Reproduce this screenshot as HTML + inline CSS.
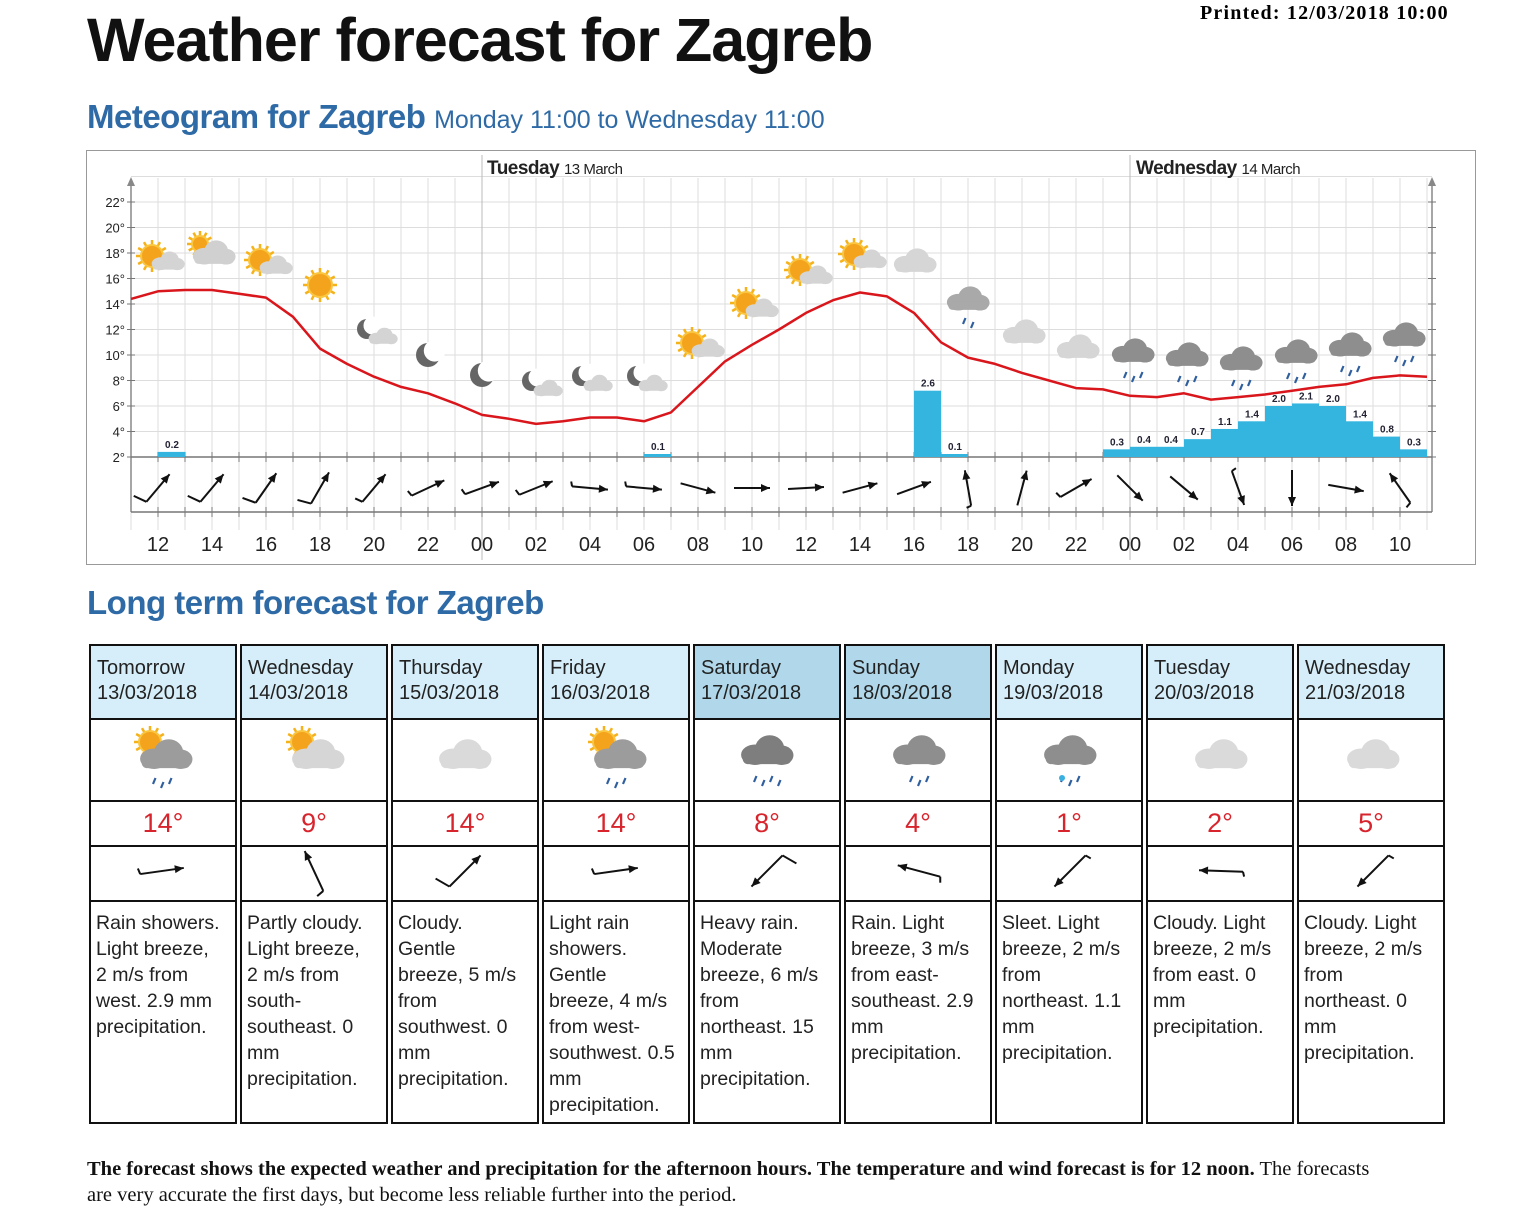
<!DOCTYPE html>
<html><head><meta charset="utf-8">
<style>
body{margin:0;width:1536px;height:1216px;background:#fff;position:relative;font-family:"Liberation Sans",sans-serif;overflow:hidden}
.abs{position:absolute;white-space:nowrap}
h1{position:absolute;left:87px;top:5px;margin:0;font-size:61px;font-weight:bold;letter-spacing:-1px;color:#111}
.h2{position:absolute;left:87px;margin:0;font-size:33px;font-weight:bold;color:#2e6aa6;letter-spacing:-0.5px}
.h2 span{font-weight:normal;font-size:25px;letter-spacing:0}
table{position:absolute;left:86px;top:644px;border-collapse:separate;border-spacing:3px 0}
td{border:2px solid #111;width:144px;padding:0;vertical-align:top}
.hd td{background:#d6eef9;height:62px;font-size:20px;line-height:25px;padding:10px 0 0 6px;width:138px;color:#222}
.hd td.we{background:#b0d8ea}
.ic td{height:80px;border-top:0}
.tp td{height:43px;border-top:0;text-align:center;font-size:27px;color:#d8242c;line-height:43px}
.wd td{height:53px;border-top:0}
.tx td{height:212px;border-top:0;font-size:19.5px;line-height:26px;padding:8px 0 0 5px;width:139px;color:#222}
.foot{position:absolute;left:87px;top:1156px;font-family:"Liberation Serif",serif;font-size:20.5px;line-height:26px;color:#111;width:1360px}
</style></head><body>
<div class="abs" style="left:1200px;top:2px;font-family:'Liberation Serif',serif;font-weight:bold;font-size:20px;letter-spacing:1.2px">Printed: 12/03/2018 10:00</div>
<h1>Weather forecast for Zagreb</h1>
<div class="h2" style="top:98px">Meteogram for Zagreb <span>Monday 11:00 to Wednesday 11:00</span></div>
<svg id="ch" style="position:absolute;left:0;top:0" width="1536" height="600"></svg>
<div class="h2" style="top:584px">Long term forecast for Zagreb</div>
<table>
<tr class="hd"><td>Tomorrow<br>13/03/2018</td><td>Wednesday<br>14/03/2018</td><td>Thursday<br>15/03/2018</td><td>Friday<br>16/03/2018</td><td class="we">Saturday<br>17/03/2018</td><td class="we">Sunday<br>18/03/2018</td><td>Monday<br>19/03/2018</td><td>Tuesday<br>20/03/2018</td><td>Wednesday<br>21/03/2018</td></tr>
<tr class="ic"><td></td><td></td><td></td><td></td><td></td><td></td><td></td><td></td><td></td></tr>
<tr class="tp"><td>14°</td><td>9°</td><td>14°</td><td>14°</td><td>8°</td><td>4°</td><td>1°</td><td>2°</td><td>5°</td></tr>
<tr class="wd"><td></td><td></td><td></td><td></td><td></td><td></td><td></td><td></td><td></td></tr>
<tr class="tx"><td>Rain showers.<br>Light breeze,<br>2 m/s from<br>west. 2.9 mm<br>precipitation.</td><td>Partly cloudy.<br>Light breeze,<br>2 m/s from<br>south-<br>southeast. 0<br>mm<br>precipitation.</td><td>Cloudy.<br>Gentle<br>breeze, 5 m/s<br>from<br>southwest. 0<br>mm<br>precipitation.</td><td>Light rain<br>showers.<br>Gentle<br>breeze, 4 m/s<br>from west-<br>southwest. 0.5<br>mm<br>precipitation.</td><td>Heavy rain.<br>Moderate<br>breeze, 6 m/s<br>from<br>northeast. 15<br>mm<br>precipitation.</td><td>Rain. Light<br>breeze, 3 m/s<br>from east-<br>southeast. 2.9<br>mm<br>precipitation.</td><td>Sleet. Light<br>breeze, 2 m/s<br>from<br>northeast. 1.1<br>mm<br>precipitation.</td><td>Cloudy. Light<br>breeze, 2 m/s<br>from east. 0<br>mm<br>precipitation.</td><td>Cloudy. Light<br>breeze, 2 m/s<br>from<br>northeast. 0<br>mm<br>precipitation.</td></tr>
</table>
<svg id="tb" style="position:absolute;left:0;top:0" width="1536" height="1216"></svg>
<div class="foot"><b>The forecast shows the expected weather and precipitation for the afternoon hours. The temperature and wind forecast is for 12 noon.</b> The forecasts<br>are very accurate the first days, but become less reliable further into the period.</div>
<script>
var s='';
function X(h){return 131+27*h;}
function Y(t){return 457-(t-2)*12.75;}
s+='<rect x="86.5" y="150.5" width="1389" height="414" fill="none" stroke="#999"/>';
for(var h=0;h<=48;h++){var x=X(h);s+='<line x1="'+x+'" y1="178" x2="'+x+'" y2="530" stroke="#ddd"/>';}
for(var t=4;t<=24;t+=2){var y=Y(t);s+='<line x1="131" y1="'+y+'" x2="1432" y2="'+y+'" stroke="#ddd"/>';}
s+='<line x1="482" y1="155" x2="482" y2="560" stroke="#bbb"/><line x1="1130" y1="155" x2="1130" y2="560" stroke="#bbb"/>';
s+='<line x1="131" y1="180" x2="131" y2="512" stroke="#888" stroke-width="1.5"/><polygon points="127,186 131,177 135,186" fill="#888"/>';
s+='<line x1="1432" y1="180" x2="1432" y2="512" stroke="#888" stroke-width="1.5"/><polygon points="1428,186 1432,177 1436,186" fill="#888"/>';
s+='<line x1="131" y1="457" x2="1432" y2="457" stroke="#777" stroke-width="1.5"/><line x1="131" y1="512" x2="1432" y2="512" stroke="#777" stroke-width="1.5"/>';
for(var h=1;h<48;h++){var x=X(h);s+='<line x1="'+x+'" y1="452" x2="'+x+'" y2="462" stroke="#777"/><line x1="'+x+'" y1="507" x2="'+x+'" y2="517" stroke="#777"/>';}
for(var t=2;t<=22;t+=2){var y=Y(t);s+='<line x1="127" y1="'+y+'" x2="135" y2="'+y+'" stroke="#777"/><line x1="1428" y1="'+y+'" x2="1436" y2="'+y+'" stroke="#777"/><text x="125" y="'+(y+5)+'" font-size="13" text-anchor="end" fill="#222">'+t+'°</text>';}
s+='<text x="487" y="174" font-size="19" font-weight="bold" fill="#222" letter-spacing="-0.5">Tuesday <tspan font-size="15" font-weight="normal">13 March</tspan></text>';
s+='<text x="1136" y="174" font-size="19" font-weight="bold" fill="#222" letter-spacing="-0.5">Wednesday <tspan font-size="15" font-weight="normal">14 March</tspan></text>';
var labs=['12','14','16','18','20','22','00','02','04','06','08','10','12','14','16','18','20','22','00','02','04','06','08','10'];
for(var i=0;i<24;i++)s+='<text x="'+X(1+2*i)+'" y="551" font-size="20" text-anchor="middle" fill="#222">'+labs[i]+'</text>';
var pr=[[1,0.2],[19,0.1],[29,2.6],[30,0.1],[36,0.3],[37,0.4],[38,0.4],[39,0.7],[40,1.1],[41,1.4],[42,2.0],[43,2.1],[44,2.0],[45,1.4],[46,0.8],[47,0.3]];
pr.forEach(function(p){var x=X(p[0]),hh=Math.max(p[1]*25.5,3);s+='<rect x="'+x+'" y="'+(457-hh)+'" width="27" height="'+hh+'" fill="#33b5e0"/>';
s+='<text x="'+(x+14)+'" y="'+(457-hh-4)+'" font-size="10" font-weight="bold" text-anchor="middle" fill="#223" stroke="#fff" stroke-width="3" paint-order="stroke">'+p[1].toFixed(1)+'</text>';});
var T=[14.4,15,15.1,15.1,14.8,14.5,13,10.5,9.3,8.3,7.5,7,6.2,5.3,5,4.6,4.8,5.1,5.1,4.8,5.5,7.5,9.5,10.8,12,13.3,14.3,14.9,14.6,13.3,11,9.8,9.3,8.6,8,7.4,7.3,6.8,6.7,7,6.5,6.7,6.9,7.2,7.5,7.7,8.2,8.4,8.3];
var pts=T.map(function(t,i){return X(i)+','+Y(t).toFixed(1)}).join(' ');
s+='<polyline points="'+pts+'" fill="none" stroke="#d9161c" stroke-width="2.5" stroke-linejoin="round"/>';
function arrow(cx,cy,a,L,b){var r=a*Math.PI/180,dx=Math.cos(r),dy=-Math.sin(r);var x1=cx-dx*L/2,y1=cy-dy*L/2,x2=cx+dx*L/2,y2=cy+dy*L/2;
var o='<line x1="'+x1+'" y1="'+y1+'" x2="'+x2+'" y2="'+y2+'" stroke="#111" stroke-width="2"/>';
var hx=x2-dx*9,hy=y2-dy*9,px=-dy,py=dx;o+='<polygon points="'+x2+','+y2+' '+(hx+px*4)+','+(hy+py*4)+' '+(hx-px*4)+','+(hy-py*4)+'" fill="#111"/>';
var rb=(a+105)*Math.PI/180;o+='<line x1="'+x1+'" y1="'+y1+'" x2="'+(x1+Math.cos(rb)*b)+'" y2="'+(y1-Math.sin(rb)*b)+'" stroke="#111" stroke-width="2"/>';return o;}
var wa=[50,50,55,60,50,25,20,22,-5,-5,-15,0,3,15,20,100,75,30,-45,-40,-70,-90,-10,125];
var wb=[14,14,14,14,8,6,6,6,5,5,0,0,0,0,0,5,0,6,0,0,5,0,0,6];
for(var i=0;i<24;i++)s+=arrow(X(1+2*i),488,wa[i],36,wb[i]);
function sun(x,y,r){var o='';for(var k=0;k<12;k++){var a=k*Math.PI/6;o+='<line x1="'+(x+Math.cos(a)*r)+'" y1="'+(y+Math.sin(a)*r)+'" x2="'+(x+Math.cos(a)*(r+5))+'" y2="'+(y+Math.sin(a)*(r+5))+'" stroke="#f5b21a" stroke-width="2.5"/>';}
return o+'<circle cx="'+x+'" cy="'+y+'" r="'+r+'" fill="#f4a41c" stroke="#fac640" stroke-width="2"/>';}
function cloud(x,y,w,c){var h=w*0.5;return '<g fill="'+c+'"><ellipse cx="'+(x-w*0.22)+'" cy="'+(y+h*0.1)+'" rx="'+(w*0.26)+'" ry="'+(h*0.38)+'"/><ellipse cx="'+(x+w*0.05)+'" cy="'+(y-h*0.12)+'" rx="'+(w*0.27)+'" ry="'+(h*0.5)+'"/><ellipse cx="'+(x+w*0.27)+'" cy="'+(y+h*0.12)+'" rx="'+(w*0.22)+'" ry="'+(h*0.36)+'"/><rect x="'+(x-w*0.45)+'" y="'+(y+h*0.05)+'" width="'+(w*0.9)+'" height="'+(h*0.4)+'" rx="'+(h*0.2)+'"/></g>';}
function moon(x,y,r){return '<circle cx="'+x+'" cy="'+y+'" r="'+r+'" fill="#666"/><circle cx="'+(x+r*0.55)+'" cy="'+(y-r*0.35)+'" r="'+r*0.9+'" fill="#fff"/>';}
function rain(x,y,n,c){var o='';for(var k=0;k<n;k++){var xx=x-(n-1)*4+k*8,yy=y+(k%2)*4;o+='<line x1="'+(xx+1.5)+'" y1="'+yy+'" x2="'+(xx-1)+'" y2="'+(yy+6)+'" stroke="'+(c||'#2f5f9e')+'" stroke-width="2.2"/>';}return o;}
var I=[[158,258,'sc'],[212,250,'sc2'],[266,262,'sc'],[320,285,'s'],[375,333,'mc'],[428,355,'m'],[482,375,'m'],[540,385,'mc'],[590,380,'mc'],[645,380,'mc'],[698,345,'sc'],[752,305,'sc'],[806,272,'sc'],[860,256,'sc'],[915,262,'c'],[968,300,'r1'],[1024,333,'c'],[1078,348,'c'],[1133,356,'r'],[1187,360,'r'],[1241,364,'r'],[1296,357,'r'],[1350,350,'r'],[1404,340,'r']];
I.forEach(function(a){var x=a[0],y=a[1],k=a[2];
if(k=='sc'){s+=sun(x-6,y-2,11)+cloud(x+10,y+4,34,'#d4d4d4');}
else if(k=='sc2'){s+=sun(x-12,y-6,8)+cloud(x+2,y+4,44,'#d0d0d0');}
else if(k=='s'){s+=sun(x,y,12);}
else if(k=='mc'){s+=moon(x-8,y-4,10)+cloud(x+8,y+4,30,'#d4d4d4');}
else if(k=='m'){s+=moon(x,y,12);}
else if(k=='c'){s+=cloud(x,y,44,'#d6d6d6');}
else if(k=='r1'){s+=cloud(x,y,44,'#a9a9a9')+rain(x,y+18,2);}
else {s+=cloud(x,y-4,44,'#8e8e8e')+rain(x,y+16,3);}
});
document.getElementById('ch').innerHTML=s;
var t='';var cx=[162,314,465,616,767,919,1070,1221,1373];
var ti=['scr','sc','c','scr','hr','r','sl','c','c'];
ti.forEach(function(k,i){var x=cx[i],y=756;
if(k=='scr'){t+=sun(x-12,y-14,11)+cloud(x+4,y,54,'#9c9c9c')+rain(x,y+22,3);}
else if(k=='sc'){t+=sun(x-12,y-14,11)+cloud(x+4,y,54,'#d6d6d6');}
else if(k=='c'){t+=cloud(x,y,54,'#dadada');}
else if(k=='hr'){t+=cloud(x,y-4,54,'#7e7e7e')+rain(x,y+20,4);}
else if(k=='r'){t+=cloud(x,y-4,54,'#8e8e8e')+rain(x,y+20,3);}
else if(k=='sl'){t+=cloud(x,y-4,54,'#8e8e8e')+rain(x,y+20,3)+'<circle cx="'+(x-8)+'" cy="'+(y+22)+'" r="3" fill="#3ab0e0"/>';}
});
var ta=[8,115,45,8,-135,165,-135,178,-135],tb=[6,8,16,6,16,6,6,5,6];
for(var i=0;i<9;i++)t+=arrow(cx[i],871,ta[i],44,tb[i]);
document.getElementById('tb').innerHTML=t;
</script>
</body></html>
